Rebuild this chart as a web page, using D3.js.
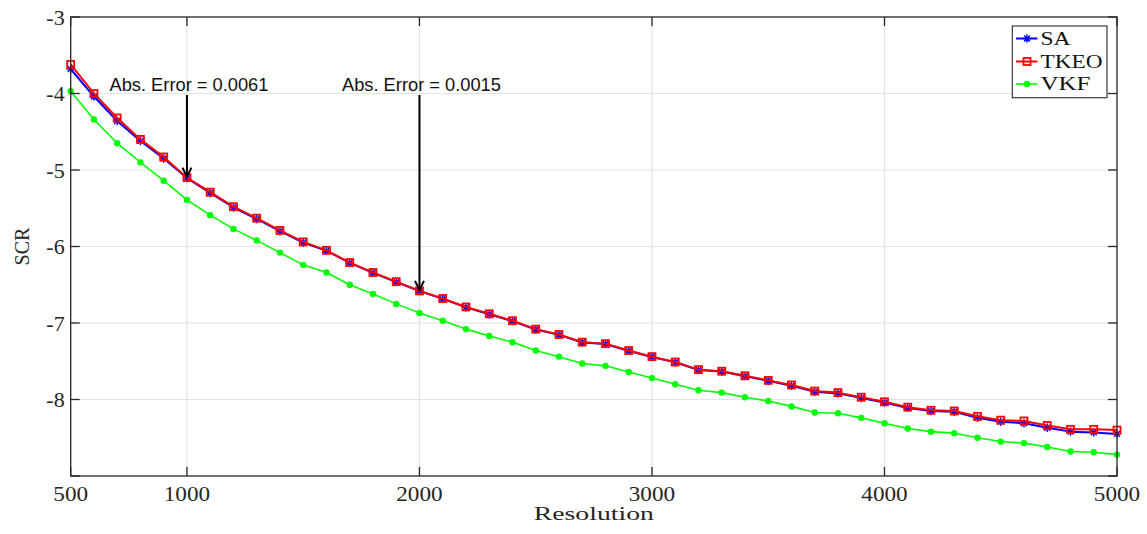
<!DOCTYPE html>
<html><head><meta charset="utf-8">
<script src="https://cdn.jsdelivr.net/npm/d3@7"></script>
<style>html,body{margin:0;padding:0;background:#fff;}svg{display:block;}</style>
</head><body>
<svg id="chart" width="1147" height="534"></svg>
<script>
const resolution = [500,600,700,800,900,1000,1100,1200,1300,1400,1500,1600,1700,1800,1900,2000,2100,2200,2300,2400,2500,2600,2700,2800,2900,3000,3100,3200,3300,3400,3500,3600,3700,3800,3900,4000,4100,4200,4300,4400,4500,4600,4700,4800,4900,5000];
const saValues = [-3.68,-4.04,-4.36,-4.62,-4.85,-5.106,-5.30,-5.49,-5.64,-5.80,-5.95,-6.055,-6.215,-6.345,-6.465,-6.5815,-6.685,-6.795,-6.885,-6.975,-7.085,-7.155,-7.255,-7.275,-7.365,-7.445,-7.515,-7.615,-7.635,-7.695,-7.755,-7.82,-7.90,-7.92,-7.98,-8.04,-8.11,-8.15,-8.16,-8.24,-8.29,-8.31,-8.37,-8.42,-8.43,-8.45];
const tkeoValues = [-3.62,-4.00,-4.32,-4.60,-4.83,-5.10,-5.29,-5.48,-5.63,-5.79,-5.94,-6.05,-6.21,-6.34,-6.46,-6.58,-6.68,-6.79,-6.88,-6.97,-7.08,-7.15,-7.25,-7.27,-7.36,-7.44,-7.51,-7.61,-7.63,-7.69,-7.75,-7.81,-7.89,-7.91,-7.97,-8.03,-8.10,-8.14,-8.15,-8.22,-8.27,-8.28,-8.34,-8.39,-8.39,-8.40];
const vkfValues = [-3.97,-4.34,-4.65,-4.90,-5.14,-5.39,-5.59,-5.77,-5.92,-6.08,-6.24,-6.34,-6.50,-6.62,-6.75,-6.87,-6.97,-7.08,-7.17,-7.25,-7.36,-7.44,-7.53,-7.56,-7.64,-7.72,-7.80,-7.88,-7.91,-7.97,-8.02,-8.09,-8.17,-8.18,-8.24,-8.31,-8.38,-8.42,-8.44,-8.50,-8.55,-8.57,-8.62,-8.68,-8.69,-8.72];
const seriesNames = ["SA","TKEO","VKF"];
const xTicks = [500,1000,2000,3000,4000,5000];
const xTickLabels = ["500","1000","2000","3000","4000","5000"];
const yTicks = [-8,-7,-6,-5,-4,-3];
const yTickLabels = ["-8","-7","-6","-5","-4","-3"];
const annotX = [1000,2000];
const annotText = ["Abs. Error = 0.0061","Abs. Error = 0.0015"];
const xLabel = "Resolution";
const yLabel = "SCR";

const svg = d3.select("#chart");
const L = 70.7, R = 1117, T = 17, B = 476;
const x = d3.scaleLinear().domain([500,5000]).range([L,R]);
const y = d3.scaleLinear().domain([-9,-3]).range([B,T]);
const serif = "'Liberation Serif','Times New Roman',serif";
const sans = "'Liberation Sans',Arial,sans-serif";
const axisCol = "#262626";

// grid
const g = svg.append("g");
g.selectAll(".vg").data([1000,2000,3000,4000]).enter().append("line")
  .attr("x1",d=>x(d)).attr("x2",d=>x(d)).attr("y1",T).attr("y2",B)
  .attr("stroke","#e3e3e3").attr("stroke-width",1.2);
g.selectAll(".hg").data([-8,-7,-6,-5,-4]).enter().append("line")
  .attr("y1",d=>y(d)).attr("y2",d=>y(d)).attr("x1",L).attr("x2",R)
  .attr("stroke","#e3e3e3").attr("stroke-width",1.2);

// data
const series = [
  {name:"SA", vals:saValues, color:"#0000ff", w:2},
  {name:"TKEO", vals:tkeoValues, color:"#ff0000", w:2},
  {name:"VKF", vals:vkfValues, color:"#00ff00", w:1.6}
];
const line = d3.line().x((d,i)=>x(resolution[i])).y(d=>y(d));
function marker(sel, name, color){
  if(name==="SA"){
    const s=4.2;
    sel.append("path").attr("d",`M${-s},0H${s}M0,${-s}V${s}M${-s*0.7},${-s*0.7}L${s*0.7},${s*0.7}M${-s*0.7},${s*0.7}L${s*0.7},${-s*0.7}`)
      .attr("stroke",color).attr("stroke-width",1.4).attr("fill","none");
  } else if(name==="TKEO"){
    sel.append("rect").attr("x",-3.5).attr("y",-3.5).attr("width",7).attr("height",7)
      .attr("fill","none").attr("stroke",color).attr("stroke-width",1.8);
  } else {
    sel.append("circle").attr("r",3.2).attr("fill",color);
  }
}
series.forEach(s=>{
  g.append("path").datum(s.vals).attr("d",line).attr("fill","none")
    .attr("stroke",s.color).attr("stroke-width",s.w).attr("stroke-linejoin","round");
  s.vals.forEach((v,i)=>{
    const m = g.append("g").attr("transform",`translate(${x(resolution[i])},${y(v)})`);
    marker(m, s.name, s.color);
  });
});

// box and ticks
g.append("rect").attr("x",L).attr("y",T).attr("width",R-L).attr("height",B-T)
  .attr("fill","none").attr("stroke",axisCol).attr("stroke-width",1.3);
const tl = 9;
xTicks.forEach(v=>{
  g.append("line").attr("x1",x(v)).attr("x2",x(v)).attr("y1",B).attr("y2",B-tl).attr("stroke",axisCol).attr("stroke-width",1.3);
  g.append("line").attr("x1",x(v)).attr("x2",x(v)).attr("y1",T).attr("y2",T+tl).attr("stroke",axisCol).attr("stroke-width",1.3);
});
[-9].concat(yTicks).forEach(v=>{
  g.append("line").attr("y1",y(v)).attr("y2",y(v)).attr("x1",L).attr("x2",L+tl).attr("stroke",axisCol).attr("stroke-width",1.3);
  g.append("line").attr("y1",y(v)).attr("y2",y(v)).attr("x1",R).attr("x2",R-tl).attr("stroke",axisCol).attr("stroke-width",1.3);
});
xTicks.forEach((v,i)=>{
  g.append("text").attr("x",x(v)).attr("y",B+25).attr("text-anchor","middle")
    .attr("font-family",serif).attr("font-size",21).attr("fill","#262626")
    .attr("textLength",xTickLabels[i].length*11.6).attr("lengthAdjust","spacingAndGlyphs")
    .text(xTickLabels[i]);
});
yTicks.forEach((v,i)=>{
  g.append("text").attr("x",L-6).attr("y",y(v)).attr("dy","0.35em").attr("text-anchor","end")
    .attr("font-family",serif).attr("font-size",22).attr("fill","#262626")
    .text(yTickLabels[i]);
});
g.append("text").attr("x",(L+R)/2).attr("y",520).attr("text-anchor","middle")
  .attr("font-family",serif).attr("font-size",19).attr("fill","#262626")
  .attr("textLength",120).attr("lengthAdjust","spacingAndGlyphs").text(xLabel);
g.append("text").attr("transform",`translate(29,${(T+B)/2}) rotate(-90)`).attr("text-anchor","middle")
  .attr("font-family",serif).attr("font-size",20).attr("fill","#262626").text(yLabel);

// annotations
annotX.forEach((v,i)=>{
  const ax = x(v), ay = y(tkeoValues[resolution.indexOf(v)]);
  g.append("text").attr("x",ax+2).attr("y",90.5).attr("text-anchor","middle")
    .attr("font-family",sans).attr("font-size",18).attr("fill","#111")
    .attr("textLength",159).attr("lengthAdjust","spacingAndGlyphs").text(annotText[i]);
  g.append("line").attr("x1",ax).attr("x2",ax).attr("y1",95).attr("y2",ay-1)
    .attr("stroke","#000").attr("stroke-width",2);
  g.append("path").attr("d",`M${ax-4.5},${ay-10}L${ax},${ay-1}L${ax+4.5},${ay-10}`)
    .attr("fill","none").attr("stroke","#000").attr("stroke-width",2);
});

// legend
const lg = svg.append("g");
lg.append("rect").attr("x",1012.3).attr("y",26).attr("width",94.7).attr("height",71.7)
  .attr("fill","#fff").attr("stroke",axisCol).attr("stroke-width",1.1);
const ly = [38.5,61.5,84];
const lw = [30,62,50];
series.forEach((s,i)=>{
  lg.append("line").attr("x1",1016).attr("x2",1037.5).attr("y1",ly[i]).attr("y2",ly[i])
    .attr("stroke",s.color).attr("stroke-width",s.w);
  const m = lg.append("g").attr("transform",`translate(1027,${ly[i]})`);
  marker(m, s.name, s.color);
  lg.append("text").attr("x",1040.5).attr("y",ly[i]+6).attr("font-family",serif)
    .attr("font-size",19.5).attr("fill","#111")
    .attr("textLength",lw[i]).attr("lengthAdjust","spacingAndGlyphs").text(seriesNames[i]);
});
</script>
</body></html>
